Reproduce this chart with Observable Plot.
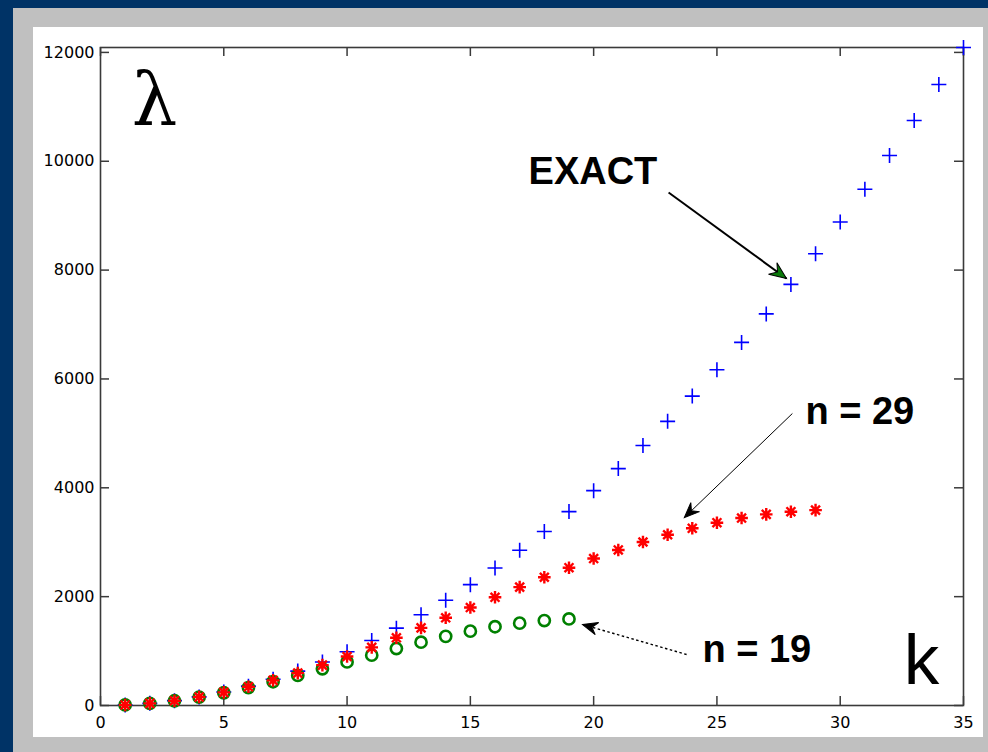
<!DOCTYPE html>
<html><head><meta charset="utf-8">
<script src="https://cdn.jsdelivr.net/npm/d3@7"></script>
<script src="https://cdn.jsdelivr.net/npm/@observablehq/plot@0.6"></script>
<style>
html,body{margin:0;padding:0;background:#003366;width:988px;height:752px;overflow:hidden;}
#gray{position:absolute;left:13px;top:8px;width:975px;height:744px;background:#c0c0c0;}
#chart{position:absolute;left:33px;top:27px;width:950px;height:710px;background:#fff;}
#chart svg{display:block;}
</style></head><body>
<div id="gray"></div><div id="chart"></div>
<script>
// ---- data ----
const kExact = [1,2,3,4,5,6,7,8,9,10,11,12,13,14,15,16,17,18,19,20,21,22,23,24,25,26,27,28,29,30,31,32,33,34,35];
const lambdaExact = [9.87,39.48,88.83,157.91,246.74,355.31,483.61,631.65,799.44,986.96,1194.22,1421.22,1667.96,1934.44,2220.66,2526.62,2852.31,3197.75,3562.93,3947.84,4352.50,4776.89,5221.03,5684.89,6168.50,6671.85,7194.94,7737.77,8300.34,8882.64,9484.69,10106.47,10747.99,11409.26,12090.26];
const kN29 = [1,2,3,4,5,6,7,8,9,10,11,12,13,14,15,16,17,18,19,20,21,22,23,24,25,26,27,28,29];
const lambdaN29 = [9.86,39.33,88.10,155.62,241.15,343.77,462.34,595.57,741.98,900.00,1067.87,1243.77,1425.76,1611.85,1800.00,1988.15,2174.24,2356.23,2532.13,2700.00,2858.01,3004.43,3137.66,3256.23,3358.85,3444.38,3511.90,3560.67,3590.14];
const kN19 = [1,2,3,4,5,6,7,8,9,10,11,12,13,14,15,16,17,18,19];
const lambdaN19 = [9.85,39.16,87.19,152.79,234.31,329.77,436.81,552.79,674.85,800.00,925.15,1047.21,1163.19,1270.23,1365.69,1447.21,1512.80,1560.84,1590.15];
const xTicks = [0,5,10,15,20,25,30,35];
const yTicks = [0,2000,4000,6000,8000,10000,12000];
const xDomain = [0,35];
const yDomain = [0,12090.26];

// annotations (data coordinates)
const labels = [
  {text:"EXACT", x:17.36, y:9812, size:38, weight:"bold", family:"Liberation Sans, Arial, sans-serif", anchor:"start"},
  {text:"n = 29", x:28.59, y:5393, size:38, weight:"bold", family:"Liberation Sans, Arial, sans-serif", anchor:"start"},
  {text:"n = 19", x:24.41, y:1029, size:38, weight:"bold", family:"Liberation Sans, Arial, sans-serif", anchor:"start"},
  {text:"λ", x:2.19, y:11098, size:72, weight:"normal", family:"DejaVu Serif, Liberation Serif, serif", anchor:"middle"},
  {text:"k", x:33.30, y:818, size:71, weight:"normal", family:"Liberation Sans, Arial, sans-serif", anchor:"middle"}
];
const arrows = [
  {x1:23.04, y1:9426, x2:27.82, y2:7846, width:2, dash:null, head:"#0a7a0a", len:17},
  {x1:28.06, y1:5365, x2:23.68, y2:3454, width:1, dash:null, head:"black", len:15},
  {x1:23.77, y1:937, x2:19.55, y2:1488, width:1.4, dash:"2.5,2.5", head:"black", len:15}
];

// ---- layout ----
const W = 950, H = 710, mL = 67, mR = 20, mT = 20, mB = 32;
const innerW = W - mL - mR, innerH = H - mT - mB;
const sx = d3.scaleLinear(xDomain, [mL, W - mR]);
const sy = d3.scaleLinear(yDomain, [H - mB, mT]);
arrows.forEach(a => {
  const dx = sx(a.x2) - sx(a.x1), dy = sy(a.y2) - sy(a.y1);
  a.rot = Math.atan2(dx, -dy) * 180 / Math.PI;
});

const asterisk8 = {
  draw(ctx, size) {
    const r = Math.sqrt(size / Math.PI), d = r * Math.SQRT1_2;
    ctx.moveTo(0, -r); ctx.lineTo(0, r);
    ctx.moveTo(-r, 0); ctx.lineTo(r, 0);
    ctx.moveTo(-d, -d); ctx.lineTo(d, d);
    ctx.moveTo(-d, d); ctx.lineTo(d, -d);
  }
};
const headShape = {
  draw(ctx, l) {
    const w = l * 0.42;
    ctx.moveTo(0, -l);
    ctx.lineTo(w, 0);
    ctx.lineTo(0, -l * 0.35);
    ctx.lineTo(-w, 0);
    ctx.closePath();
  }
};

const exact = kExact.map((k, i) => ({k, v: lambdaExact[i]}));
const n29 = kN29.map((k, i) => ({k, v: lambdaN29[i]}));
const n19 = kN19.map((k, i) => ({k, v: lambdaN19[i]}));
const axisColor = "#3a3a3a";

const plot = Plot.plot({
  width: W, height: H,
  marginLeft: mL, marginRight: mR, marginTop: mT, marginBottom: mB,
  style: {background: "white", color: "black", fontFamily: "DejaVu Sans, sans-serif", fontSize: "16px", overflow: "visible"},
  x: {domain: xDomain, label: null},
  y: {domain: yDomain, label: null},
  marks: [
    Plot.axisX(xTicks, {tickSize: 0, tickPadding: 11, tickFormat: "d", label: null, fontSize: 16}),
    Plot.axisY(yTicks, {tickSize: 0, tickPadding: 6, tickFormat: "d", label: null, fontSize: 16}),
    Plot.tickX(xTicks, {x: d => d, insetTop: innerH - 9, stroke: axisColor, strokeWidth: 1.5}),
    Plot.tickX(xTicks, {x: d => d, insetBottom: innerH - 9, stroke: axisColor, strokeWidth: 1.5}),
    Plot.tickY(yTicks, {y: d => d, insetRight: innerW - 9, stroke: axisColor, strokeWidth: 1.5}),
    Plot.tickY(yTicks, {y: d => d, insetLeft: innerW - 9, stroke: axisColor, strokeWidth: 1.5}),
    Plot.frame({stroke: axisColor, strokeWidth: 1.6}),
    Plot.dot(exact, {x: "k", y: "v", symbol: "plus", r: 4.9, stroke: "#0000ff", strokeWidth: 1.6, fill: "none"}),
    Plot.dot(n19, {x: "k", y: "v", symbol: "circle", r: 5.6, stroke: "#008000", strokeWidth: 2.6, fill: "none"}),
    Plot.dot(n29, {x: "k", y: "v", symbol: asterisk8, r: 6.3, stroke: "#ff0000", strokeWidth: 2.4, fill: "none"}),
    ...arrows.map(a => Plot.link([a], {x1: "x1", y1: "y1", x2: "x2", y2: "y2", stroke: "black", strokeWidth: a.width, strokeDasharray: a.dash ?? undefined})),
    ...arrows.map(a => Plot.vector([a], {x: "x2", y: "y2", length: a.len, rotate: a.rot, anchor: "end", shape: headShape, fill: a.head, stroke: "black", strokeWidth: 1, strokeLinejoin: "miter"})),
    ...labels.map(t => Plot.text([t], {x: "x", y: "y", text: "text", fontSize: t.size, fontWeight: t.weight, fontFamily: t.family, textAnchor: t.anchor, lineAnchor: "middle", fill: "black"}))
  ]
});
document.getElementById("chart").appendChild(plot);
</script>
</body></html>
